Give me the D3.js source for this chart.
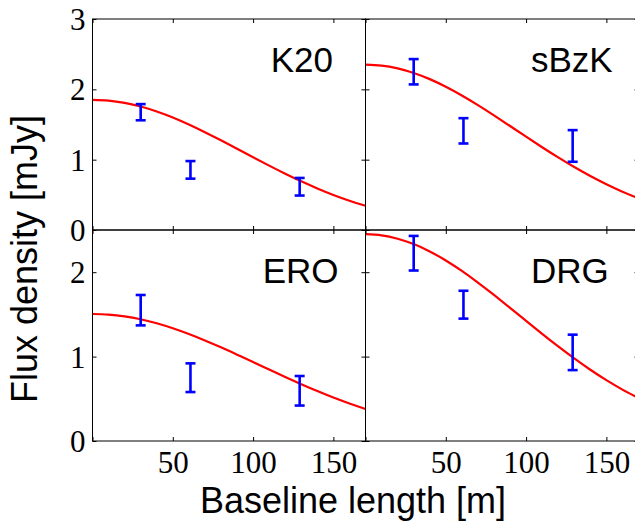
<!DOCTYPE html>
<html>
<head>
<meta charset="utf-8">
<script src="https://cdn.jsdelivr.net/npm/d3@7"></script>
<style>
  html, body { margin: 0; padding: 0; background: #fff; }
  svg { display: block; }
</style>
</head>
<body>
<svg id="chart" width="635" height="526"></svg>
<script>
// ---------------- data ----------------
const panelNames = ["K20", "sBzK", "ERO", "DRG"];

// model curve sampled at these baselines (m)
const curveBaselines = [0,10,20,30,40,50,60,70,80,90,100,110,120,130,140,150,160,170];
const curveK20  = [1.850,1.839,1.807,1.756,1.685,1.600,1.500,1.391,1.275,1.155,1.034,0.915,0.800,0.692,0.591,0.499,0.417,0.344];
const curveSBzK = [2.350,2.337,2.297,2.232,2.145,2.037,1.913,1.776,1.630,1.479,1.327,1.177,1.032,0.895,0.767,0.650,0.544,0.451];
const curveERO  = [1.505,1.498,1.477,1.442,1.395,1.336,1.268,1.192,1.110,1.023,0.935,0.846,0.758,0.673,0.592,0.515,0.445,0.380];
const curveDRG  = [2.450,2.437,2.397,2.333,2.246,2.139,2.015,1.877,1.730,1.578,1.423,1.269,1.120,0.978,0.844,0.721,0.609,0.509];

// measured points: baselines and lower / upper error-bar limits (mJy)
const pointBaselines = [30, 61, 129];
const lowK20  = [1.56, 0.73, 0.49];
const highK20 = [1.79, 0.98, 0.74];
const lowSBzK  = [2.07, 1.23, 0.97];
const highSBzK = [2.43, 1.59, 1.42];
const lowERO  = [1.37, 0.58, 0.42];
const highERO = [1.73, 0.92, 0.77];
const lowDRG  = [2.02, 1.45, 0.84];
const highDRG = [2.43, 1.78, 1.26];

// axes
const xTicks = [0, 50, 100, 150];
const yTicksTop = [0, 1, 2, 3];
const yTicksBottom = [0, 1, 2];
const xLabel = "Baseline length [m]";
const yLabel = "Flux density [mJy]";

// ---------------- layout ----------------
const W = 635, H = 526;
const colX = [92.5, 365.5];
const panelW = 273;
const rowY = [19, 230];
const panelH = 211;
const xDomain = [0, 170];
const yDomains = [[0, 3], [0, 2.5]];
const labelPos = [[111, 2.25], [103, 2.25], [106, 1.87], [103, 1.87]]; // data coords (start anchor)

const curves = [curveK20, curveSBzK, curveERO, curveDRG];
const lows = [lowK20, lowSBzK, lowERO, lowDRG];
const highs = [highK20, highSBzK, highERO, highDRG];

const svg = d3.select("#chart");
const tickFont = "'Liberation Serif', 'DejaVu Serif', serif";
const sansFont = "'Liberation Sans', Arial, Helvetica, sans-serif";

panelNames.forEach((name, i) => {
  const row = Math.floor(i / 2), col = i % 2;
  const x0 = colX[col], y0 = rowY[row];
  const x = d3.scaleLinear().domain(xDomain).range([x0, x0 + panelW]);
  const y = d3.scaleLinear().domain(yDomains[row]).range([y0 + panelH, y0]);
  const yTicks = row === 0 ? yTicksTop : yTicksBottom;

  const g = svg.append("g");

  // model curve
  const data = curveBaselines.map((b, k) => [b, curves[i][k]]);
  g.append("path")
    .datum(data)
    .attr("fill", "none")
    .attr("stroke", "#ff0000")
    .attr("stroke-width", 2.2)
    .attr("stroke-linejoin", "round")
    .attr("d", d3.line().x(d => x(d[0])).y(d => y(d[1])).curve(d3.curveNatural));

  // error bars
  const capHalf = 5;
  const eb = g.append("g").attr("stroke", "#0000ff").attr("stroke-width", 2.6).attr("fill", "none");
  pointBaselines.forEach((b, k) => {
    const xc = x(b), yl = y(lows[i][k]), yh = y(highs[i][k]);
    eb.append("line").attr("x1", xc).attr("x2", xc).attr("y1", yl).attr("y2", yh);
    eb.append("line").attr("x1", xc - capHalf).attr("x2", xc + capHalf).attr("y1", yl).attr("y2", yl);
    eb.append("line").attr("x1", xc - capHalf).attr("x2", xc + capHalf).attr("y1", yh).attr("y2", yh);
  });

  // axes (ticks inside)
  const showX = row === 1;
  const showY = col === 0;
  const fmtX = d => (showX && d !== 0) ? d : "";
  const fmtY = d => showY ? d : "";

  const axB = g.append("g").attr("transform", `translate(0,${y0 + panelH})`)
    .call(d3.axisBottom(x).tickValues(xTicks).tickSize(-4).tickPadding(10).tickFormat(fmtX));
  const axT = g.append("g").attr("transform", `translate(0,${y0})`)
    .call(d3.axisTop(x).tickValues(xTicks).tickSize(-4).tickFormat(() => ""));
  const axL = g.append("g").attr("transform", `translate(${x0},0)`)
    .call(d3.axisLeft(y).tickValues(yTicks).tickSize(-4).tickPadding(7).tickFormat(fmtY));
  const axR = g.append("g").attr("transform", `translate(${x0 + panelW},0)`)
    .call(d3.axisRight(y).tickValues(yTicks).tickSize(-4).tickFormat(() => ""));

  [axB, axT, axL, axR].forEach(a => {
    a.select(".domain").remove();
    a.selectAll(".tick line").attr("stroke", "#000").attr("stroke-width", 1);
    a.selectAll("text").attr("font-family", tickFont).attr("font-size", 31).attr("fill", "#000");
  });
  axL.selectAll("text").attr("dy", "0.34em");
  axB.selectAll("text").attr("dy", "0.71em");

  // frame
  g.append("rect")
    .attr("x", x0).attr("y", y0).attr("width", panelW).attr("height", panelH)
    .attr("fill", "none").attr("stroke", "#000").attr("stroke-width", 1);

  // panel label
  g.append("text")
    .attr("x", x(labelPos[i][0])).attr("y", y(labelPos[i][1]))
    .attr("font-family", sansFont).attr("font-size", 35).attr("fill", "#000")
    .text(name);
});

// axis titles
svg.append("text")
  .attr("x", 353).attr("y", 513)
  .attr("text-anchor", "middle")
  .attr("font-family", sansFont).attr("font-size", 36).attr("fill", "#000")
  .text(xLabel);

svg.append("text")
  .attr("transform", "translate(37,259) rotate(-90)")
  .attr("text-anchor", "middle")
  .attr("font-family", sansFont).attr("font-size", 36).attr("fill", "#000")
  .text(yLabel);
</script>
</body>
</html>
